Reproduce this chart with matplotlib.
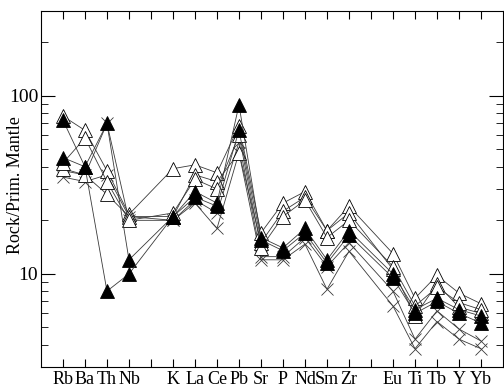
import numpy as np
import matplotlib.pyplot as plt

plt.rcParams['font.family'] = ['Liberation Serif', 'DejaVu Serif']

# element positions 1..20, blanks at 5 and 15
elements = ['Rb', 'Ba', 'Th', 'Nb', '', 'K', 'La', 'Ce', 'Pb', 'Sr', 'P',
            'Nd', 'Sm', 'Zr', '', 'Eu', 'Ti', 'Tb', 'Y', 'Yb']

# normalized values (rock / primitive mantle), one list per sample
open1 = [77, 64, 38, 21.6, 39, 41, 37, 68, 17, 25, 29, 17.5, 24, 13, 7.3, 9.8, 7.8, 6.8]
open2 = [39, 36, 28, 21, 21, 36, 33, 48, 15, 22.5, 27, 17.5, 22, 10.6, 5.8, 8.8, 6.5, 6.0]
open3 = [42, 58, 33, 20, 22, 34, 30, 60, 14, 21, 26, 16, 20, 11, 6.6, 8.4, 6.9, 6.3]
filled1 = [45, 40, 70, 12, 21, 29, 25, 89, 16, 14, 18, 12, 17.5, 10, 6.3, 7.3, 6.3, 5.8]
filled2 = [73, 40, 8, 10, 21, 27, 24, 64, 15.5, 13.5, 17, 11.5, 16.5, 9.5, 6.0, 7.0, 6.0, 5.3]
cross1 = [35, 33, 36, 21, 20, 25, 18, 48, 12, 12, 14.7, 8.2, 13.4, 6.6, 3.8, 5.4, 4.3, 3.8]
cross2 = [38, 36, 70, 20, 20, 26, 22, 55, 12.5, 12.5, 16, 11, 15, 8, 4.3, 6.2, 4.9, 4.2]

xpos = [i + 1 for i, e in enumerate(elements) if e]

fig = plt.figure(figsize=(5.04, 3.87), dpi=100)
ax = fig.add_axes([0.0813, 0.0517, 0.9167, 0.92])

line_kw = dict(color='#3a3a3a', linewidth=0.6)
for vals in [cross1, cross2]:
    ax.plot(xpos, vals, marker='x', markersize=8, markeredgewidth=0.6,
            markeredgecolor='#3a3a3a', **line_kw)
for vals in [open1, open2, open3]:
    ax.plot(xpos, vals, marker='^', markersize=10, markerfacecolor='white',
            markeredgecolor='black', markeredgewidth=0.6, **line_kw)
for vals in [filled1, filled2]:
    ax.plot(xpos, vals, marker='^', markersize=10, markerfacecolor='black',
            markeredgecolor='black', markeredgewidth=0.6, **line_kw)

ax.set_yscale('log')
ax.set_ylim(3, 300)
ax.set_xlim(0, 21)
ax.set_xticks(range(1, 21))
ax.set_xticklabels(elements, fontsize=13)
ax.set_yticks([10, 100])
ax.set_yticklabels(['10', '100'], fontsize=14)
ax.tick_params(axis='both', which='both', direction='in', top=True, right=True)
ax.tick_params(axis='x', length=6, pad=3)
ax.tick_params(axis='y', which='major', length=10, pad=2)
ax.tick_params(axis='y', which='minor', length=5, labelleft=False)
ax.set_ylabel('Rock/Prim. Mantle', fontsize=13)
ax.yaxis.set_label_coords(-0.037, 0.51)

fig.savefig('out.png', dpi=100)
